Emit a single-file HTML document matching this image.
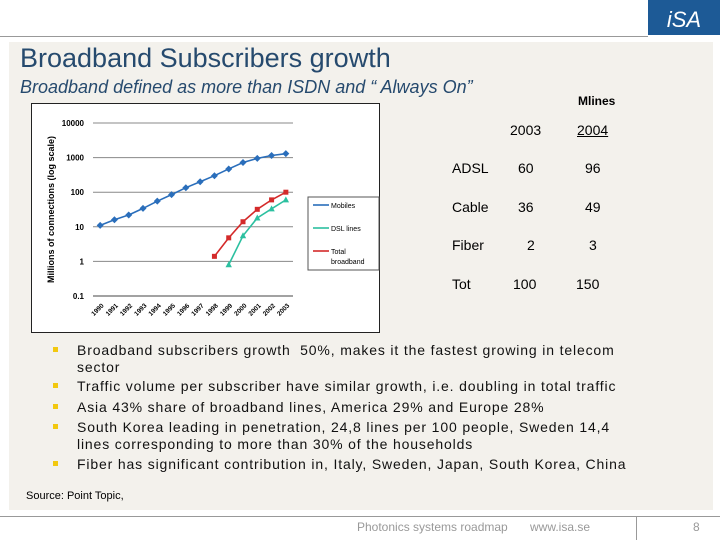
<!DOCTYPE html>
<html><head><meta charset="utf-8"><style>
body{margin:0;width:720px;height:540px;position:relative;background:#fff;font-family:"Liberation Sans",sans-serif;overflow:hidden}
.abs{position:absolute}
.bul{position:absolute;left:77px;font-size:14px;color:#111;line-height:17px;width:548px;letter-spacing:0.85px}
.nw{white-space:nowrap}
.sq{position:absolute;left:53px;width:5px;height:5px;background:#f2c80f}
.td{position:absolute;font-size:14px;color:#000}
</style></head><body>
<div class="abs" style="left:0;top:36px;width:648px;height:1px;background:#999"></div>
<div class="abs" style="left:648px;top:0;width:72px;height:35px;background:#1d5a96;color:#fff;font-size:22px;font-style:italic;text-align:center;line-height:40px">iSA</div>
<div class="abs" style="left:9px;top:42px;width:704px;height:468px;background:#f3f1ec"></div>
<div class="abs" style="left:20px;top:43px;font-size:27px;color:#264a6e">Broadband Subscribers growth</div>
<div class="abs" style="left:20px;top:77px;font-size:18px;font-style:italic;color:#264a6e">Broadband defined as more than ISDN and “ Always On”</div>
<div class="abs" style="left:578px;top:94px;font-size:12px;font-weight:bold">Mlines</div>
<div class="td" style="left:510px;top:122px">2003</div>
<div class="td" style="left:577px;top:122px;text-decoration:underline">2004</div>
<div class="td" style="left:452px;top:160px">ADSL</div>
<div class="td" style="left:518px;top:160px">60</div>
<div class="td" style="left:585px;top:160px">96</div>
<div class="td" style="left:452px;top:199px">Cable</div>
<div class="td" style="left:518px;top:199px">36</div>
<div class="td" style="left:585px;top:199px">49</div>
<div class="td" style="left:452px;top:237px">Fiber</div>
<div class="td" style="left:527px;top:237px">2</div>
<div class="td" style="left:589px;top:237px">3</div>
<div class="td" style="left:452px;top:276px">Tot</div>
<div class="td" style="left:513px;top:276px">100</div>
<div class="td" style="left:576px;top:276px">150</div>

<svg id="chart" class="abs" style="left:31px;top:103px" width="350" height="231" font-family="Liberation Sans, sans-serif">
<rect x="0.5" y="0.5" width="348" height="229" fill="#fff" stroke="#222"/>
</svg>

<div class="sq" style="top:347px"></div>
<div class="bul" style="top:342px">Broadband subscribers growth&nbsp; 50%, makes it the fastest growing in telecom sector</div>
<div class="sq" style="top:383px"></div>
<div class="bul nw" style="top:378px">Traffic volume per subscriber have similar growth, i.e. doubling in total traffic</div>
<div class="sq" style="top:404px"></div>
<div class="bul nw" style="top:399px">Asia 43% share of broadband lines, America 29% and Europe 28%</div>
<div class="sq" style="top:424px"></div>
<div class="bul" style="top:419px">South Korea leading in penetration, 24,8 lines per 100 people, Sweden 14,4 lines corresponding to more than 30% of the households</div>
<div class="sq" style="top:461px"></div>
<div class="bul nw" style="top:456px">Fiber has significant contribution in, Italy, Sweden, Japan, South Korea, China</div>
<div class="abs" style="left:26px;top:490px;font-size:11px">Source: Point Topic,</div>
<div class="abs" style="left:0;top:516px;width:720px;height:1px;background:#999"></div>
<div class="abs" style="left:636px;top:517px;width:1px;height:23px;background:#999"></div>
<div class="abs" style="left:357px;top:520px;font-size:12px;color:#999">Photonics systems roadmap</div>
<div class="abs" style="left:530px;top:520px;font-size:12px;color:#999">www.isa.se</div>
<div class="abs" style="left:693px;top:520px;font-size:12px;color:#999">8</div>

<script>
const years=["1990","1991","1992","1993","1994","1995","1996","1997","1998","1999","2000","2001","2002","2003"];
const mobiles=[11,16,22,34,55,85,135,200,300,470,720,950,1150,1300];
const dslYears=["1999","2000","2001","2002","2003"];
const dsl=[0.8,5.5,18,33,60];
const totalYears=["1998","1999","2000","2001","2002","2003"];
const total=[1.4,4.8,14,32,60,100];
const yTicks=[0.1,1,10,100,1000,10000];
const yTickLabels=["0.1","1","10","100","1000","10000"];

const svg=document.getElementById('chart');
const NS='http://www.w3.org/2000/svg';
const X0=62,X1=262,YT=20,YB=193;
const band=(X1-X0)/years.length;
function xs(yr){return X0+band*(years.indexOf(yr)+0.5);}
function ys(v){return YB-(Math.log10(v)+1)/5*(YB-YT);}
function mk(t,a){const e=document.createElementNS(NS,t);for(const k in a)e.setAttribute(k,a[k]);svg.appendChild(e);return e;}

yTicks.forEach((v,i)=>{
  const g=mk('line',{x1:X0,x2:X1,y1:ys(v),y2:ys(v),stroke:i==0?'#444':'#888','stroke-width':1});
  
  
  const t=mk('text',{x:X0-9,y:ys(v)+3,'text-anchor':'end','font-size':8,'font-weight':'bold'});
  t.textContent=yTickLabels[i];
  
  
});
years.forEach(y=>{
  const x=xs(y);
  const t=mk('text',{x:x+4,y:YB+10,'text-anchor':'end','font-size':6.5,'font-weight':'bold',transform:`rotate(-45 ${x+4} ${YB+10})`});
  t.textContent=y;
  
  
});
const yt=mk('text',{x:23,y:(YT+YB)/2,'text-anchor':'middle','font-size':9,'font-weight':'bold',transform:`rotate(-90 23 ${(YT+YB)/2})`});
yt.textContent='Millions of connections (log scale)';



function series(xv,vals,color,shape,name){
  const pts=vals.map((v,i)=>[xs(xv[i]),ys(v)]);
  const pl=mk('polyline',{points:pts.map(p=>p.join(',')).join(' '),fill:'none',stroke:color,'stroke-width':1.6});
  
  
  pts.forEach(p=>{
    let m;
    if(shape=='sq')m=mk('rect',{x:p[0]-2.5,y:p[1]-2.5,width:5,height:5,fill:color});
    else if(shape=='tri')m=mk('polygon',{points:`${p[0]},${p[1]-3.5} ${p[0]-3.2},${p[1]+2.5} ${p[0]+3.2},${p[1]+2.5}`,fill:color});
    else m=mk('polygon',{points:`${p[0]},${p[1]-3.5} ${p[0]+3.5},${p[1]} ${p[0]},${p[1]+3.5} ${p[0]-3.5},${p[1]}`,fill:color});
    
    
  });
}
series(years,mobiles,'#2a6ebb','dia','mobiles');
series(totalYears,total,'#d42a2a','sq','total-broadband');
series(dslYears,dsl,'#2cc0a0','tri','dsl-lines');

const lg=mk('rect',{x:277,y:94,width:71,height:73,fill:'#fff',stroke:'#555'});


[['Mobiles','#2a6ebb',102],['DSL lines','#2cc0a0',125],['Total','#d42a2a',148]].forEach(e=>{
  const l=mk('line',{x1:282,x2:298,y1:e[2],y2:e[2],stroke:e[1],'stroke-width':1.6});
  
  
  const t=mk('text',{x:300,y:e[2]+3,'font-size':7});
  t.textContent=e[0];
  
  
});
const t2=mk('text',{x:300,y:161,'font-size':7});
t2.textContent='broadband';


</script>
</body></html>
